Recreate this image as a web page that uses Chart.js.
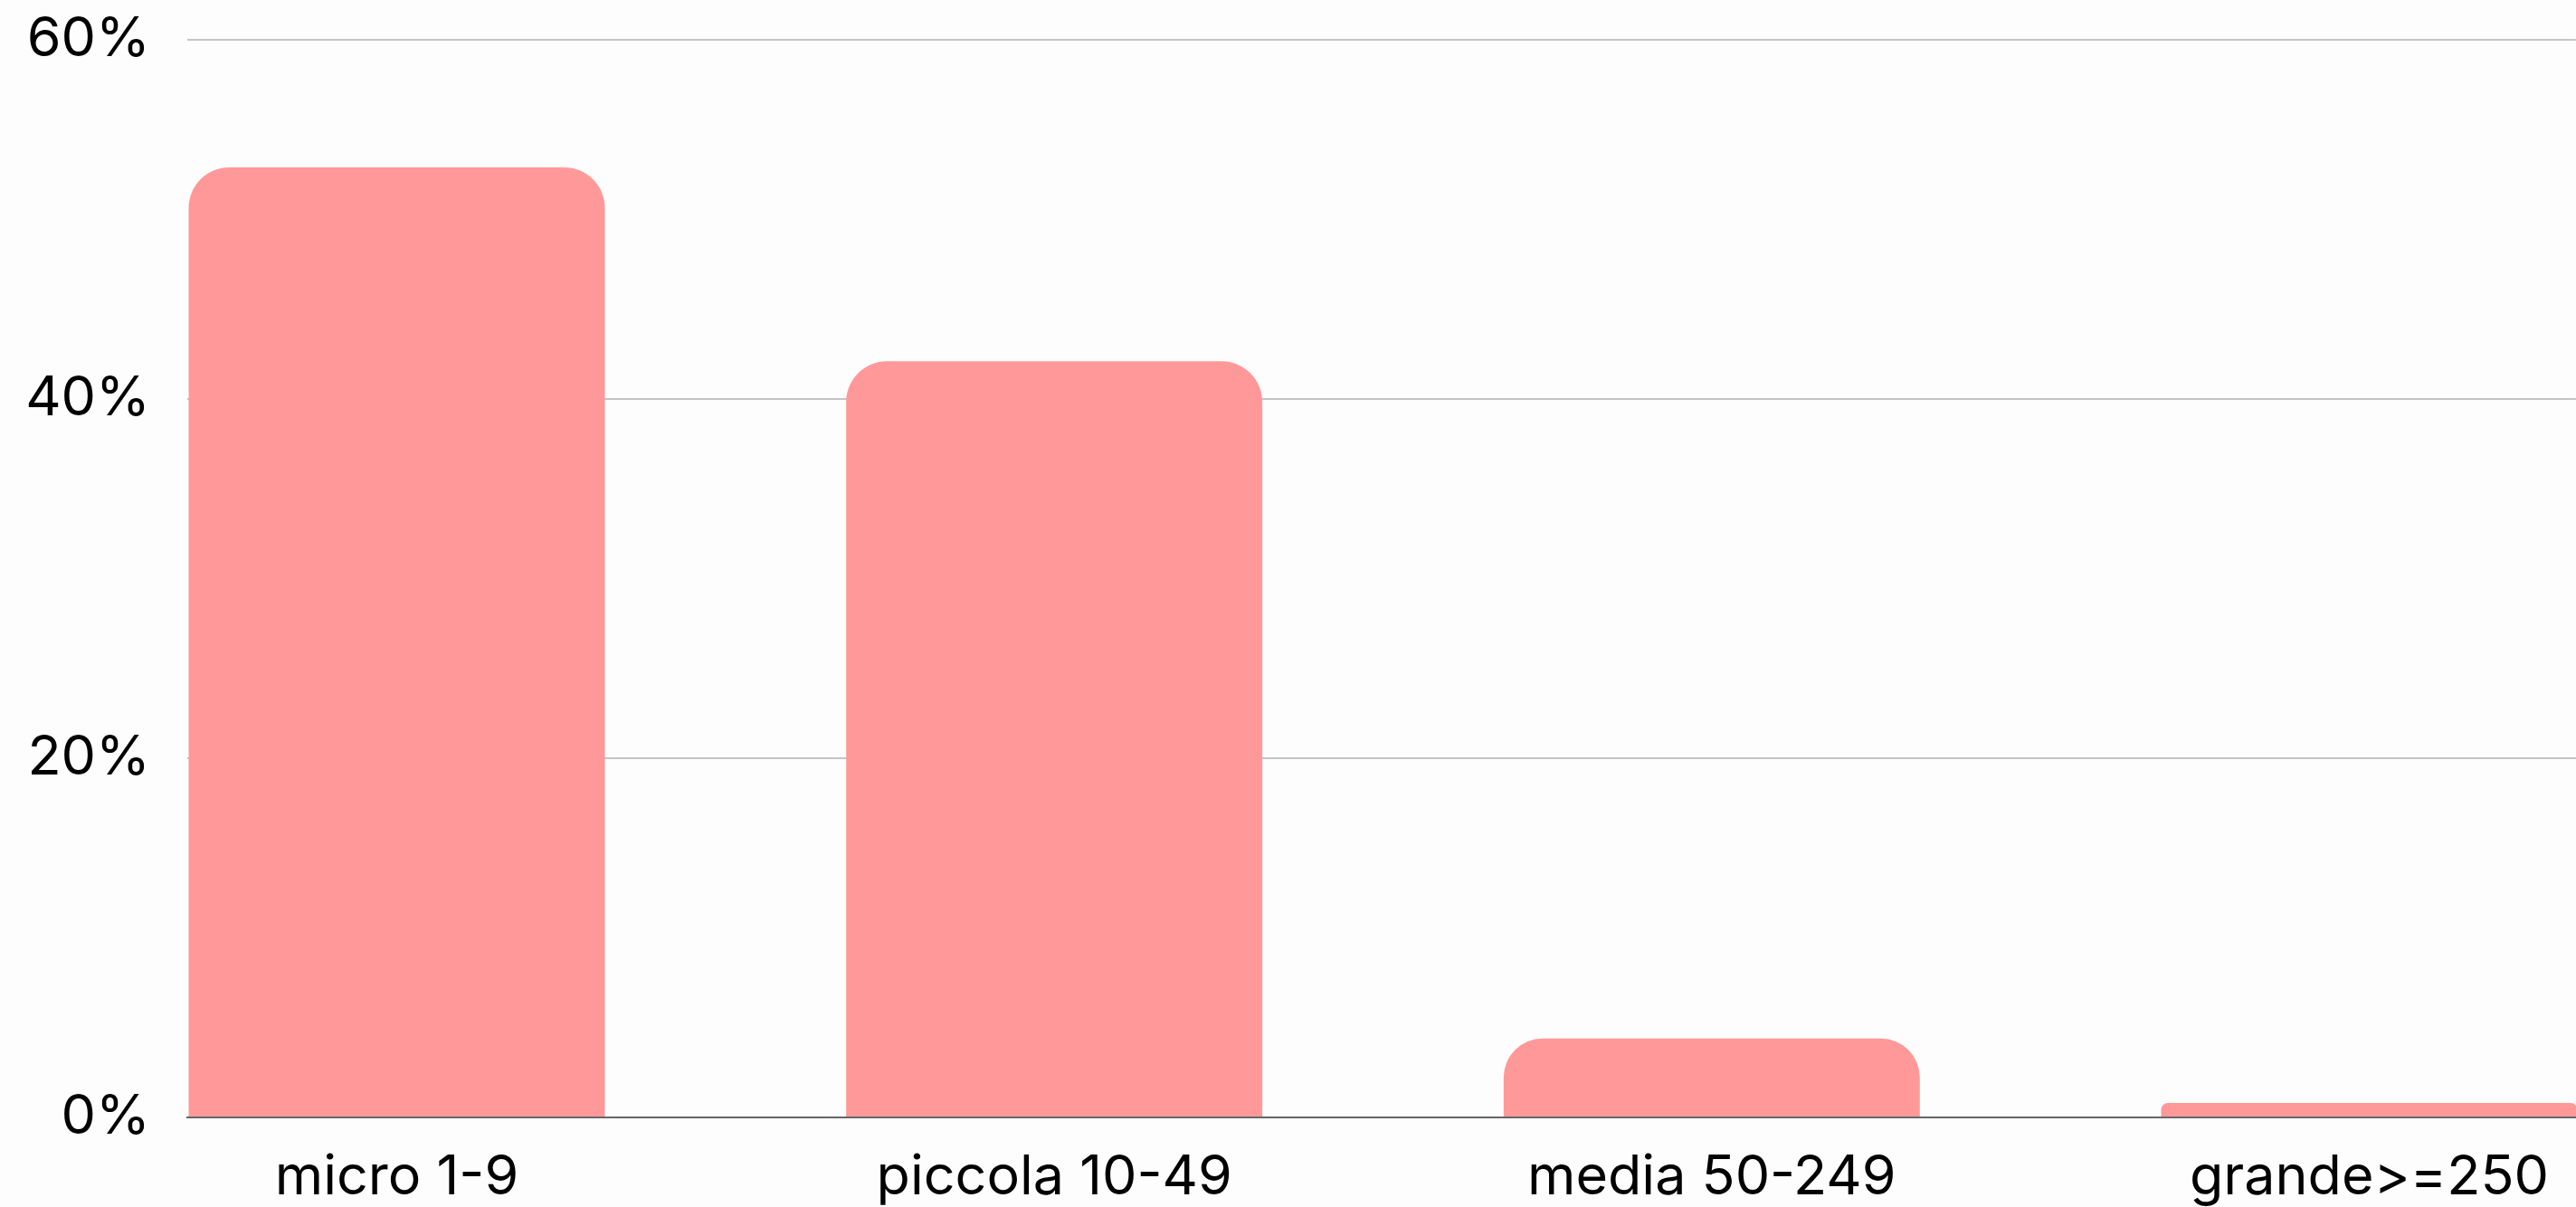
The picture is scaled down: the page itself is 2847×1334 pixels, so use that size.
<!DOCTYPE html>
<html>
<head>
<meta charset="utf-8">
<script src="https://cdn.jsdelivr.net/npm/chart.js@4"></script>
<style>
  html, body { margin: 0; padding: 0; background: #fdfdfd; }
  canvas { display: block; }
</style>
</head>
<body>
<canvas id="sizeChart" width="2847" height="1334"></canvas>
<script>
// company size classes and share of firms (%)
var categories = ["micro 1-9", "piccola 10-49", "media 50-249", "grande>=250"];
var shares = [52.9, 42.1, 4.4, 0.8];
var yTicks = [0, 20, 40, 60];

var fontFamily = "Inter, 'Noto Sans', sans-serif";

var sizeCtx = document.getElementById("sizeChart").getContext("2d");
var sizeChart = new Chart(sizeCtx, {
  type: "bar",
  data: {
    datasets: [
      {
        label: "Imprese",
        data: shares.map(function (v, i) {
          return { x: i, y: v };
        }),
        backgroundColor: "#ff9999",
        borderRadius: 45,
        borderSkipped: "start",
        categoryPercentage: 1,
        barPercentage: 0.633,
      },
    ],
  },
  options: {
    responsive: false,
    devicePixelRatio: 1,
    animation: false,
    layout: { padding: { top: 44, right: 0, bottom: 0, left: 0 } },
    plugins: {
      legend: { display: false },
      tooltip: { enabled: false },
    },
    scales: {
      x: {
        type: "linear",
        offset: false,
        min: -0.3186,
        max: 3.3144,
        grid: { display: false, drawTicks: false, offset: false },
        border: { display: true, color: "#666666", width: 2 },
        afterFit: function (scale) {
          scale.height = 99;
        },
        afterBuildTicks: function (scale) {
          scale.ticks = categories.map(function (c, i) {
            return { value: i };
          });
        },
        ticks: {
          autoSkip: false,
          maxRotation: 0,
          padding: 30,
          color: "#000000",
          font: { family: fontFamily, size: 61 },
          callback: function (value) {
            return categories[value];
          },
        },
      },
      y: {
        min: 0,
        max: 60,
        afterFit: function (scale) {
          scale.width = 207;
          scale.paddingTop = 0;
          scale.paddingBottom = 0;
        },
        afterBuildTicks: function (scale) {
          scale.ticks = yTicks.map(function (t) {
            return { value: t };
          });
        },
        grid: {
          drawTicks: false,
          color: function (ctx) {
            return ctx.tick && ctx.tick.value === 0 ? "rgba(0,0,0,0)" : "#c4c4c4";
          },
          lineWidth: 2,
        },
        border: { display: false },
        ticks: {
          padding: 41,
          color: "#000000",
          font: { family: fontFamily, size: 61 },
          callback: function (value) {
            return value + "%";
          },
        },
      },
    },
  },
});
</script>
</body>
</html>
